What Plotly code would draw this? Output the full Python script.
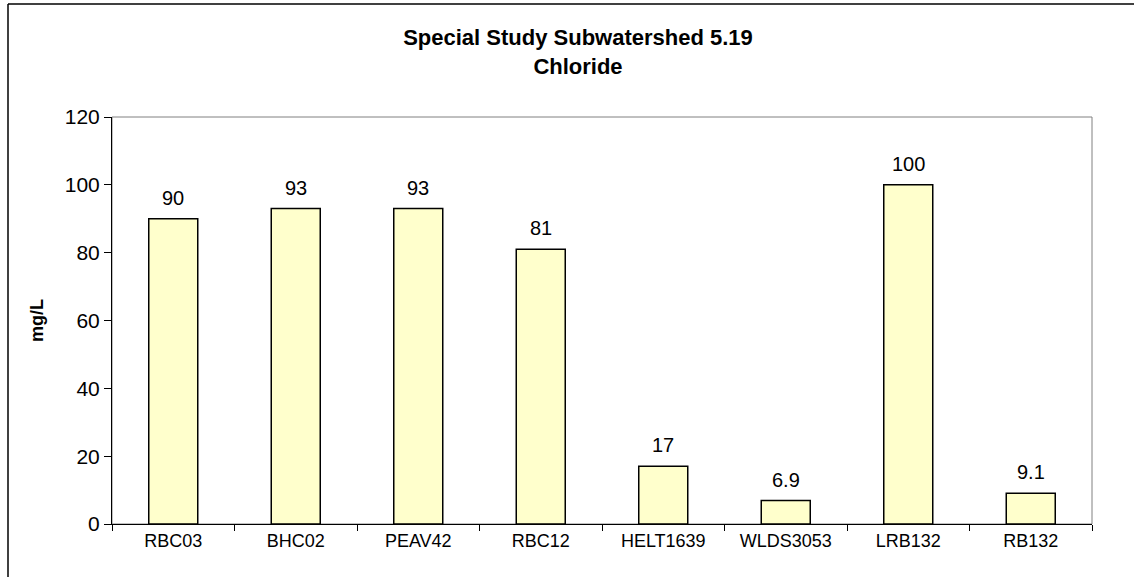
import plotly.graph_objects as go

# Chloride concentrations by sampling station
stations = ["RBC03", "BHC02", "PEAV42", "RBC12", "HELT1639", "WLDS3053", "LRB132", "RB132"]
chloride_mg_l = [90, 93, 93, 81, 17, 6.9, 100, 9.1]
value_labels = ["90", "93", "93", "81", "17", "6.9", "100", "9.1"]
y_ticks = [0, 20, 40, 60, 80, 100, 120]

W, H = 1134, 577
ML, MR, MT, MB = 112, 42, 117, 53
PW = W - ML - MR
PH = H - MT - MB

FONT = "Arial, Liberation Sans, sans-serif"

fig = go.Figure()
fig.add_trace(go.Bar(
    x=stations,
    y=chloride_mg_l,
    width=0.4,
    marker=dict(color="#FFFFCC", line=dict(color="#000000", width=1.5)),
    hoverinfo="x+y",
))

# value labels above each bar
for s, v, lab in zip(stations, chloride_mg_l, value_labels):
    fig.add_annotation(
        x=s, y=v, text=lab, showarrow=False,
        yanchor="bottom", yshift=8,
        font=dict(family=FONT, size=20, color="#000000"),
    )

def px_x(p):
    return (p - ML) / PW

def px_y(p):
    return (H - MB - p) / PH

# gray frame around the plotting area (top/right edges visible)
fig.add_shape(type="rect", xref="paper", yref="paper", x0=0, x1=1, y0=0, y1=1,
              line=dict(color="#808080", width=1), layer="below")
# outer chart border: left and top edges
fig.add_shape(type="line", xref="paper", yref="paper",
              x0=px_x(8), x1=px_x(8), y0=px_y(H), y1=px_y(4),
              line=dict(color="#000000", width=1.5), layer="below")
fig.add_shape(type="line", xref="paper", yref="paper",
              x0=px_x(8), x1=px_x(W), y0=px_y(4), y1=px_y(4),
              line=dict(color="#000000", width=1.5), layer="below")

fig.update_layout(
    width=W, height=H,
    margin=dict(l=ML, r=MR, t=MT, b=MB, autoexpand=False),
    paper_bgcolor="#FFFFFF",
    plot_bgcolor="#FFFFFF",
    showlegend=False,
    title=dict(
        text="Special Study Subwatershed 5.19<br>Chloride",
        xref="paper", x=px_x(578), xanchor="center",
        yref="container", y=1 - 45 / H, yanchor="middle",
        font=dict(family=FONT, size=22, color="#000000", weight="bold"),
    ),
    xaxis=dict(
        type="category",
        showline=True, linecolor="#000000", linewidth=1,
        ticks="outside", tickson="boundaries", ticklen=6, tickcolor="#000000",
        tickfont=dict(family=FONT, size=18, color="#000000"),
        showgrid=False, zeroline=False,
    ),
    yaxis=dict(
        range=[0, 120], tickvals=y_ticks,
        showline=True, linecolor="#000000", linewidth=1,
        ticks="outside", ticklen=7, tickcolor="#000000",
        tickfont=dict(family=FONT, size=21, color="#000000"),
        showgrid=False, zeroline=False,
        title=dict(text="mg/L", standoff=16,
                   font=dict(family=FONT, size=18, color="#000000", weight="bold")),
    ),
    bargap=0.6,
)

fig.write_html("out.html")
